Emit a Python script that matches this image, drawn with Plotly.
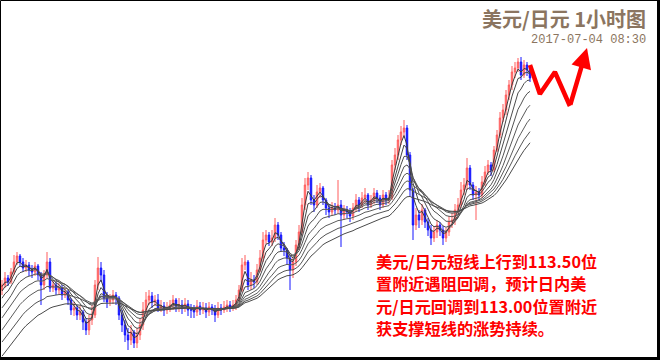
import plotly.graph_objects as go

# ---- data (USD/JPY 1h) ----
closes = [111.25,111.32,111.28,111.38,111.48,111.54,111.48,111.42,111.45,111.40,
          111.38,111.44,111.35,111.25,111.35,111.48,111.22,111.25,111.20,111.22,
          111.15,111.18,111.10,111.00,111.02,110.95,110.98,110.88,110.80,110.90,
          110.95,111.25,111.42,111.35,111.12,111.08,111.10,111.15,111.12,110.95,
          110.85,110.75,110.70,110.78,110.67,110.75,110.85,111.00,111.10,111.14,
          111.08,111.10,111.02,111.04,111.00,111.02,111.05,111.10,111.04,111.05,
          111.02,111.06,111.00,111.00,110.98,111.04,111.00,111.02,110.98,111.03,
          111.00,110.95,111.02,111.00,111.03,111.05,111.02,111.05,111.10,111.20,
          111.45,111.48,111.25,111.30,111.28,111.40,111.52,111.70,111.75,111.68,
          111.72,111.85,111.75,111.62,111.60,111.52,111.40,111.48,111.65,111.78,
          112.05,112.25,112.32,112.10,112.05,112.18,112.22,112.10,112.02,111.98,
          112.02,112.00,112.05,111.95,112.00,111.98,111.94,112.02,112.10,112.05,
          112.12,112.15,112.05,112.10,112.17,112.12,112.05,112.15,112.10,112.12,
          112.45,112.55,112.70,112.78,112.82,112.55,112.20,111.85,111.95,111.90,
          112.00,111.88,111.80,111.72,111.78,111.85,111.80,111.72,111.78,111.88,
          111.90,112.00,112.05,112.20,112.25,112.42,112.25,112.15,112.18,112.15,
          112.28,112.38,112.45,112.40,112.60,112.75,112.92,113.00,113.15,113.25,
          113.38,113.42,113.48,113.35,113.45,113.40,113.32]
highs = [111.30,111.38,111.35,111.42,111.55,111.58,111.56,111.52,111.50,111.48,
         111.45,111.48,111.46,111.38,111.40,111.58,111.52,111.30,111.28,111.27,
         111.25,111.22,111.20,111.12,111.08,111.05,111.04,111.00,110.92,110.95,
         111.05,111.30,111.53,111.48,111.40,111.18,111.16,111.20,111.18,111.14,
         111.00,110.90,110.82,110.85,110.80,110.82,110.92,111.08,111.18,111.20,
         111.18,111.15,111.16,111.10,111.08,111.08,111.10,111.15,111.12,111.12,
         111.10,111.12,111.10,111.06,111.05,111.10,111.08,111.08,111.07,111.08,
         111.06,111.05,111.08,111.06,111.09,111.10,111.09,111.10,111.15,111.25,
         111.52,111.55,111.50,111.38,111.35,111.46,111.60,111.78,111.80,111.78,
         111.80,111.92,111.88,111.78,111.68,111.62,111.55,111.52,111.70,111.85,
         112.12,112.32,112.38,112.35,112.15,112.25,112.27,112.24,112.12,112.06,
         112.08,112.07,112.30,112.10,112.05,112.04,112.02,112.07,112.16,112.13,
         112.18,112.22,112.17,112.15,112.22,112.20,112.15,112.20,112.18,112.20,
         112.50,112.62,112.75,112.84,112.90,112.85,112.58,112.22,112.02,112.00,
         112.06,112.02,111.92,111.85,111.84,111.90,111.88,111.84,111.82,111.94,
         111.97,112.06,112.12,112.28,112.32,112.52,112.45,112.28,112.24,112.22,
         112.34,112.44,112.50,112.48,112.64,112.80,112.98,113.06,113.20,113.30,
         113.44,113.48,113.52,113.53,113.50,113.48,113.44]
lows = [111.15,111.22,111.24,111.26,111.35,111.45,111.44,111.38,111.38,111.34,
        111.32,111.34,111.30,111.05,111.20,111.32,111.18,111.18,111.15,111.16,
        111.10,111.12,111.05,110.95,110.94,110.90,110.90,110.80,110.75,110.75,
        110.85,110.92,111.20,111.28,111.08,111.02,111.04,111.06,111.05,110.90,
        110.78,110.68,110.60,110.65,110.62,110.62,110.70,110.80,110.95,111.05,
        111.02,111.04,110.98,110.98,110.94,110.96,110.98,111.00,110.98,110.98,
        110.96,110.98,110.94,110.92,110.92,110.94,110.95,110.96,110.92,110.94,
        110.95,110.88,110.92,110.95,110.97,110.98,110.98,110.99,111.00,111.08,
        111.18,111.40,111.20,111.20,111.22,111.25,111.38,111.48,111.66,111.64,
        111.64,111.68,111.70,111.58,111.54,111.45,111.20,111.32,111.44,111.60,
        111.75,112.00,112.20,112.05,111.98,112.02,112.12,112.05,111.95,111.92,
        111.94,111.95,111.96,111.63,111.90,111.92,111.88,111.90,111.98,111.98,
        112.02,112.07,112.00,112.02,112.06,112.07,112.00,112.02,112.05,112.06,
        112.10,112.40,112.50,112.65,112.72,112.50,112.14,111.70,111.80,111.82,
        111.85,111.82,111.74,111.65,111.68,111.72,111.74,111.65,111.68,111.74,
        111.82,111.85,111.95,112.02,112.15,112.20,112.20,112.10,111.90,112.10,
        112.12,112.24,112.35,112.34,112.38,112.58,112.72,112.88,112.95,113.10,
        113.20,113.32,113.38,113.30,113.32,113.34,113.28]
first_open = 111.20

# moving averages (EMA) - periods and starting levels
ma_periods = [3, 5, 8, 12, 17, 23, 30, 38]
ma_seeds = [111.22, 111.16, 111.08, 110.98, 110.88, 110.76, 110.64, 110.50]

# forecast zigzag (bar index, price)
fc_bars = [176, 179.3, 184.3, 189.3, 195.0]
fc_prices = [113.45, 113.16, 113.38, 113.04, 113.62]

title_text = "美元/日元 1小时图"
time_text = "2017-07-04 08:30"
comment_lines = ["美元/日元短线上行到113.50位",
                 "置附近遇阻回调，预计日内美",
                 "元/日元回调到113.00位置附近",
                 "获支撑短线的涨势持续。"]

# ---- build ----
n = len(closes)
idx = list(range(n))
opens = [first_open] + closes[:-1]
hi = [max(h, o, c) for h, o, c in zip(highs, opens, closes)]
lo = [min(l, o, c) for l, o, c in zip(lows, opens, closes)]

fig = go.Figure()
fig.add_trace(go.Candlestick(
    x=idx, open=opens, high=hi, low=lo, close=closes,
    increasing=dict(line=dict(color="#ff5c5c", width=1), fillcolor="#ff8c8c"),
    decreasing=dict(line=dict(color="#1414ff", width=1), fillcolor="#1414ff"),
    whiskerwidth=0, showlegend=False, hoverinfo="skip"))

ma_colors = ["#3c3c3c", "#444444", "#4c4c4c", "#525252", "#585858", "#5c5c5c", "#555555", "#4a4a4a"]
for p, s, col in zip(ma_periods, ma_seeds, ma_colors):
    a = 2.0 / (p + 1)
    e = s
    vals = []
    for c in closes:
        e = e + a * (c - e)
        vals.append(e)
    fig.add_trace(go.Scatter(x=idx, y=vals, mode="lines",
                             line=dict(color=col, width=1), showlegend=False, hoverinfo="skip"))

fig.add_trace(go.Scatter(x=fc_bars[:-1], y=fc_prices[:-1], mode="lines",
                         line=dict(color="#ff0000", width=4.5), showlegend=False, hoverinfo="skip"))
fig.add_annotation(x=fc_bars[-1], y=fc_prices[-1], ax=fc_bars[-2], ay=fc_prices[-2],
                   xref="x", yref="y", axref="x", ayref="y", text="", showarrow=True,
                   arrowhead=2, arrowsize=0.9, arrowwidth=4.5, arrowcolor="#ff0000", standoff=0)

W, H = 660, 360
fig.add_annotation(x=648 / W, y=1 - 18 / H, xref="paper", yref="paper", xanchor="right", yanchor="middle",
                   text=title_text, showarrow=False,
                   font=dict(family="Noto Sans CJK SC", size=20, color="#8b7560", weight="bold"))
fig.add_annotation(x=648 / W, y=1 - 40 / H, xref="paper", yref="paper", xanchor="right", yanchor="middle",
                   text=time_text, showarrow=False,
                   font=dict(family="Liberation Mono", size=12, color="#8b7560"))
line_centers = [261, 283, 305.5, 327.5]
for txt, yc in zip(comment_lines, line_centers):
    fig.add_annotation(x=375 / W, y=1 - yc / H, xref="paper", yref="paper", xanchor="left", yanchor="middle",
                       text=txt, showarrow=False, align="left", borderpad=0,
                       font=dict(family="Noto Sans CJK SC", size=16.2, color="#ff0000", weight="bold"))

# frame
fig.add_shape(type="rect", xref="paper", yref="paper", x0=0.5 / W, y0=1.5 / H, x1=1 - 1.5 / W, y1=1 - 0.5 / H,
              line=dict(color="#000000", width=1))
fig.add_shape(type="line", xref="paper", yref="paper", x0=1 - 1.5 / W, y0=0, x1=1 - 1.5 / W, y1=1,
              line=dict(color="#000000", width=3))
fig.add_shape(type="line", xref="paper", yref="paper", x0=0, y0=1.5 / H, x1=1, y1=1.5 / H,
              line=dict(color="#000000", width=3))

fig.update_layout(width=W, height=H, margin=dict(l=0, r=0, t=0, b=0),
                  paper_bgcolor="white", plot_bgcolor="white",
                  xaxis=dict(visible=False, range=[-2 / 3, (W - 2) / 3], rangeslider=dict(visible=False)),
                  yaxis=dict(visible=False, range=[110.50, 114.10]))
fig.write_html("out.html")
